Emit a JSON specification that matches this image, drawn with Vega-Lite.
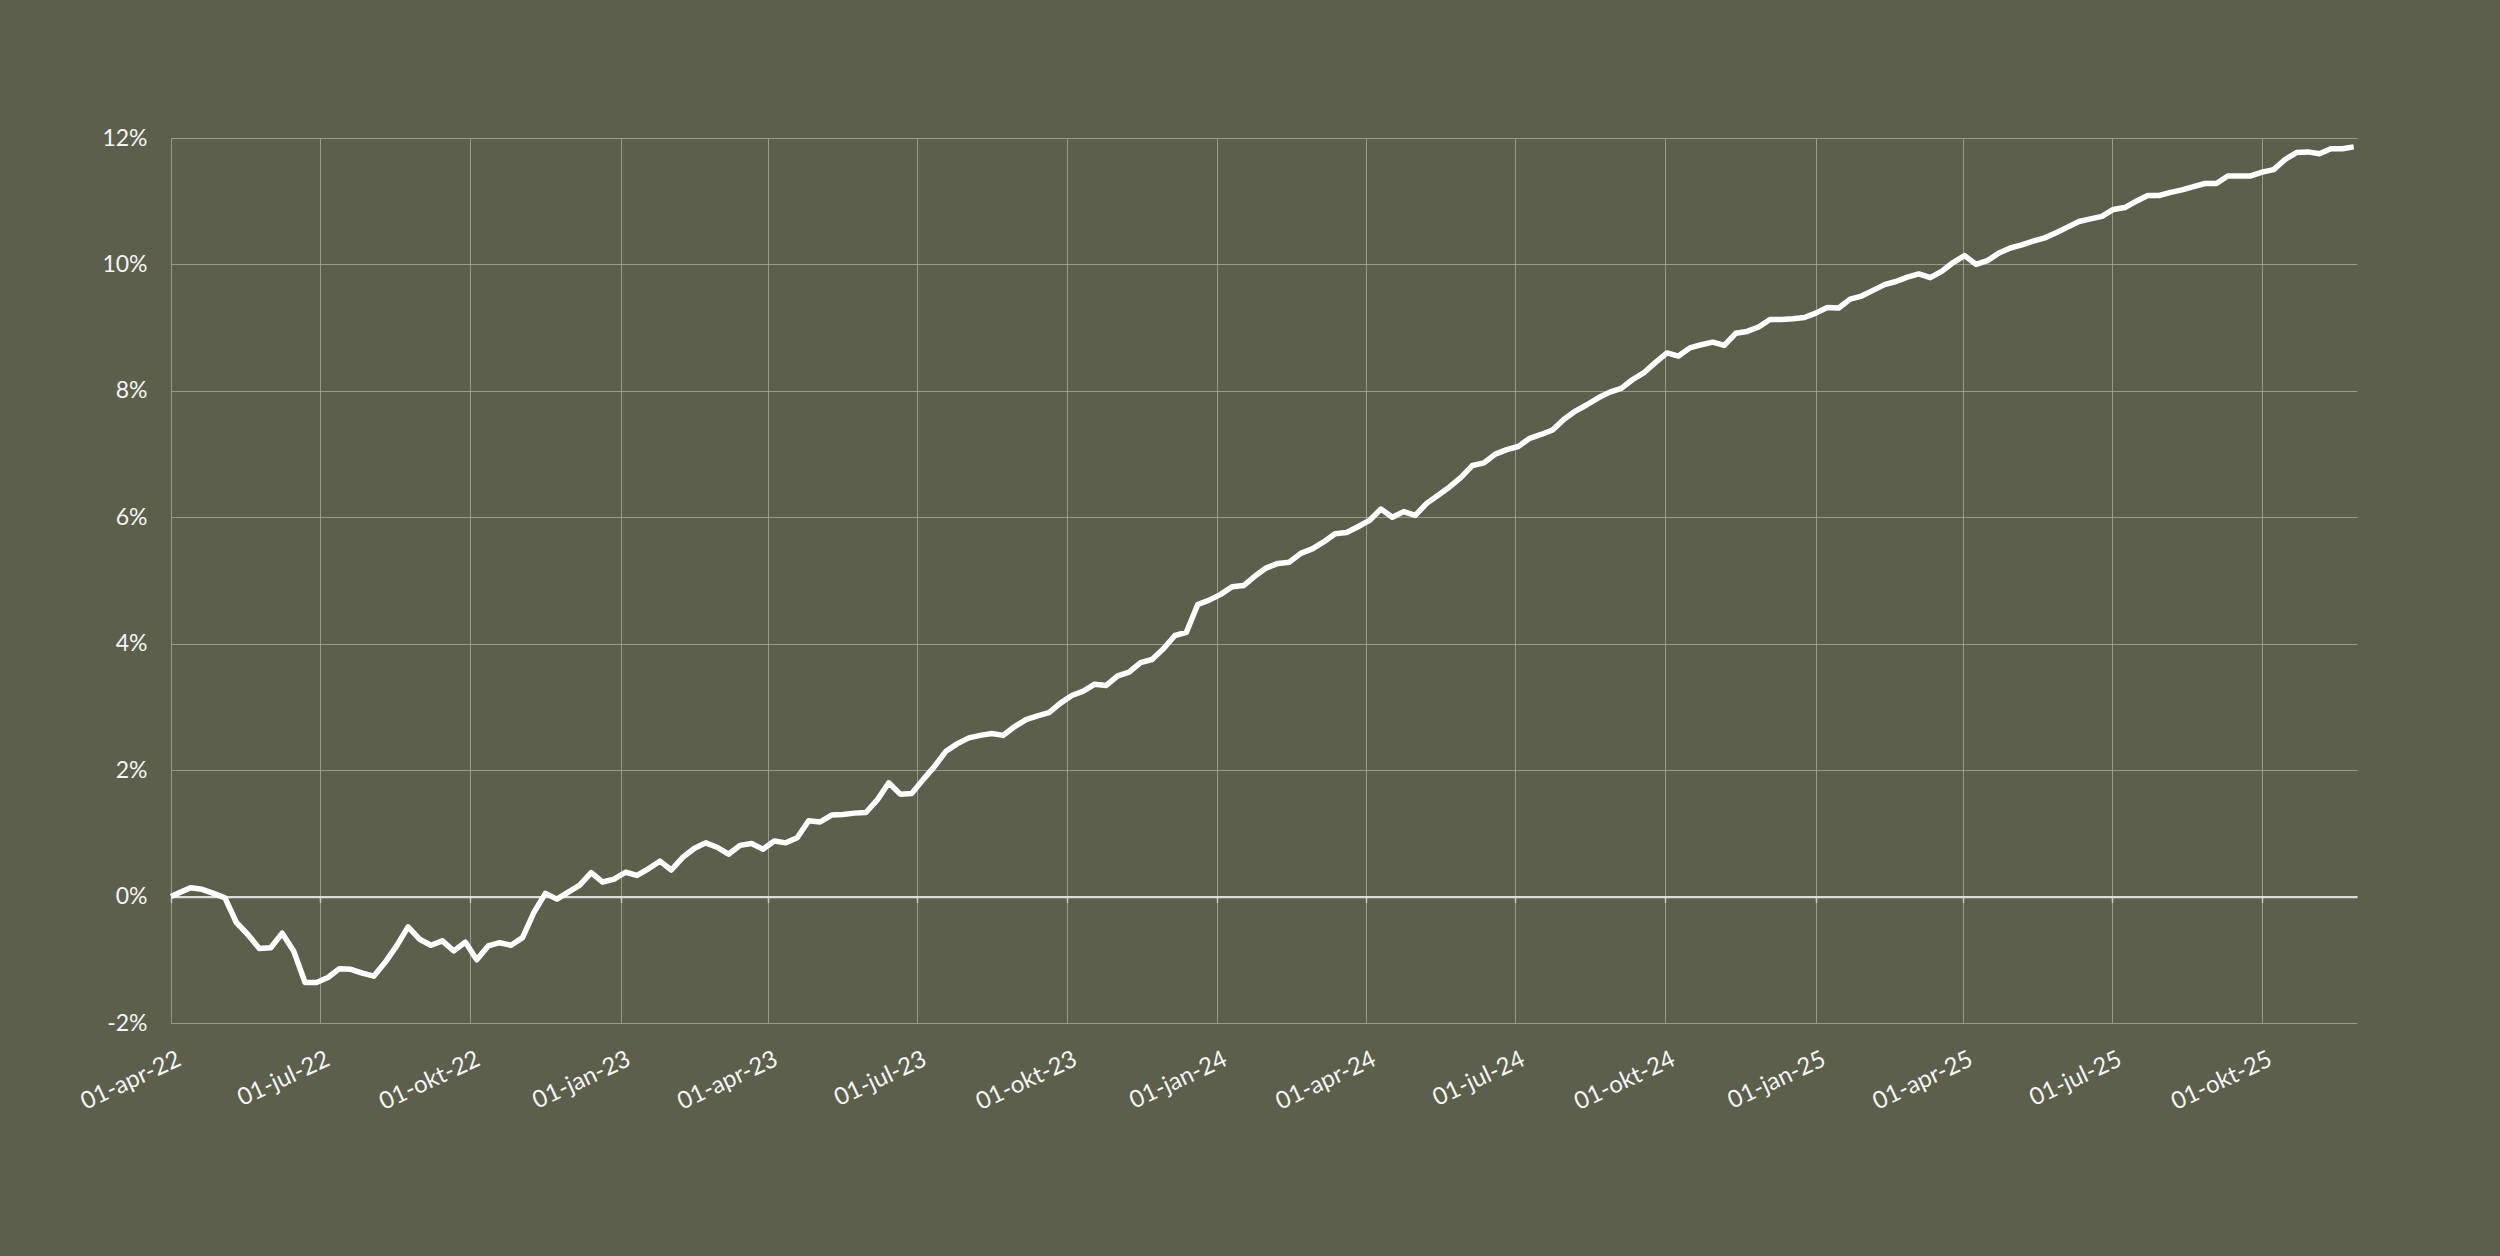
{
"$schema": "https://vega.github.io/schema/vega-lite/v6.json",
"width": 2186,
"height": 885,
"autosize": {"type": "none"},
"padding": {"left": 171, "top": 138, "right": 143, "bottom": 233},
"background": "#5c5f4b",
"config": {"view": {"stroke": null}, "font": "Lato", "axis": {"labelFont": "Lato"}},
"data": {"values": [
{"d":"2022-04-01","r":0.0},
{"d":"2022-04-06","r":0.06},{"d":"2022-04-13","r":0.14},{"d":"2022-04-20","r":0.115},{"d":"2022-04-27","r":0.05},
{"d":"2022-05-04","r":-0.02},{"d":"2022-05-11","r":-0.41},{"d":"2022-05-18","r":-0.6},{"d":"2022-05-25","r":-0.82},
{"d":"2022-06-01","r":-0.81},{"d":"2022-06-08","r":-0.58},{"d":"2022-06-15","r":-0.86},{"d":"2022-06-22","r":-1.36},{"d":"2022-06-29","r":-1.36},
{"d":"2022-07-06","r":-1.28},{"d":"2022-07-13","r":-1.14},{"d":"2022-07-20","r":-1.15},{"d":"2022-07-27","r":-1.21},
{"d":"2022-08-03","r":-1.26},{"d":"2022-08-10","r":-1.04},{"d":"2022-08-17","r":-0.78},{"d":"2022-08-24","r":-0.48},{"d":"2022-08-31","r":-0.675},
{"d":"2022-09-07","r":-0.77},{"d":"2022-09-14","r":-0.7},{"d":"2022-09-21","r":-0.86},{"d":"2022-09-28","r":-0.72},
{"d":"2022-10-05","r":-1.0},{"d":"2022-10-12","r":-0.78},{"d":"2022-10-19","r":-0.73},{"d":"2022-10-26","r":-0.77},
{"d":"2022-11-02","r":-0.65},{"d":"2022-11-09","r":-0.25},{"d":"2022-11-16","r":0.05},{"d":"2022-11-23","r":-0.04},{"d":"2022-11-30","r":0.07},
{"d":"2022-12-07","r":0.18},{"d":"2022-12-14","r":0.38},{"d":"2022-12-21","r":0.23},{"d":"2022-12-28","r":0.275},
{"d":"2023-01-04","r":0.385},{"d":"2023-01-11","r":0.335},{"d":"2023-01-18","r":0.44},{"d":"2023-01-25","r":0.56},
{"d":"2023-02-01","r":0.42},{"d":"2023-02-08","r":0.62},{"d":"2023-02-15","r":0.76},{"d":"2023-02-22","r":0.85},
{"d":"2023-03-01","r":0.78},{"d":"2023-03-08","r":0.67},{"d":"2023-03-15","r":0.81},{"d":"2023-03-22","r":0.84},{"d":"2023-03-29","r":0.75},
{"d":"2023-04-05","r":0.88},{"d":"2023-04-12","r":0.85},{"d":"2023-04-19","r":0.93},{"d":"2023-04-26","r":1.2},
{"d":"2023-05-03","r":1.18},{"d":"2023-05-10","r":1.29},{"d":"2023-05-17","r":1.3},{"d":"2023-05-24","r":1.32},{"d":"2023-05-31","r":1.33},
{"d":"2023-06-07","r":1.53},{"d":"2023-06-14","r":1.8},{"d":"2023-06-21","r":1.62},{"d":"2023-06-28","r":1.63},
{"d":"2023-07-05","r":1.85},{"d":"2023-07-12","r":2.06},{"d":"2023-07-19","r":2.3},{"d":"2023-07-26","r":2.42},
{"d":"2023-08-02","r":2.51},{"d":"2023-08-09","r":2.55},{"d":"2023-08-16","r":2.58},{"d":"2023-08-23","r":2.55},{"d":"2023-08-30","r":2.69},
{"d":"2023-09-06","r":2.8},{"d":"2023-09-13","r":2.86},{"d":"2023-09-20","r":2.91},{"d":"2023-09-27","r":3.06},
{"d":"2023-10-04","r":3.18},{"d":"2023-10-11","r":3.25},{"d":"2023-10-18","r":3.36},{"d":"2023-10-25","r":3.34},
{"d":"2023-11-01","r":3.49},{"d":"2023-11-08","r":3.55},{"d":"2023-11-15","r":3.7},{"d":"2023-11-22","r":3.75},{"d":"2023-11-29","r":3.92},
{"d":"2023-12-06","r":4.13},{"d":"2023-12-13","r":4.18},{"d":"2023-12-20","r":4.62},{"d":"2023-12-27","r":4.69},
{"d":"2024-01-03","r":4.78},{"d":"2024-01-10","r":4.9},{"d":"2024-01-17","r":4.92},{"d":"2024-01-24","r":5.07},{"d":"2024-01-31","r":5.2},
{"d":"2024-02-07","r":5.27},{"d":"2024-02-14","r":5.29},{"d":"2024-02-21","r":5.43},{"d":"2024-02-28","r":5.5},
{"d":"2024-03-06","r":5.61},{"d":"2024-03-13","r":5.74},{"d":"2024-03-20","r":5.76},{"d":"2024-03-27","r":5.85},
{"d":"2024-04-03","r":5.95},{"d":"2024-04-10","r":6.13},{"d":"2024-04-17","r":6.0},{"d":"2024-04-24","r":6.09},
{"d":"2024-05-01","r":6.03},{"d":"2024-05-08","r":6.22},{"d":"2024-05-15","r":6.35},{"d":"2024-05-22","r":6.48},{"d":"2024-05-29","r":6.63},
{"d":"2024-06-05","r":6.82},{"d":"2024-06-12","r":6.86},{"d":"2024-06-19","r":7.0},{"d":"2024-06-26","r":7.07},
{"d":"2024-07-03","r":7.12},{"d":"2024-07-10","r":7.25},{"d":"2024-07-17","r":7.31},{"d":"2024-07-24","r":7.38},{"d":"2024-07-31","r":7.55},
{"d":"2024-08-07","r":7.68},{"d":"2024-08-14","r":7.78},{"d":"2024-08-21","r":7.89},{"d":"2024-08-28","r":7.98},
{"d":"2024-09-04","r":8.04},{"d":"2024-09-11","r":8.18},{"d":"2024-09-18","r":8.29},{"d":"2024-09-25","r":8.45},
{"d":"2024-10-02","r":8.6},{"d":"2024-10-09","r":8.55},{"d":"2024-10-16","r":8.68},{"d":"2024-10-23","r":8.73},{"d":"2024-10-30","r":8.77},
{"d":"2024-11-06","r":8.72},{"d":"2024-11-13","r":8.91},{"d":"2024-11-20","r":8.94},{"d":"2024-11-27","r":9.01},
{"d":"2024-12-04","r":9.13},{"d":"2024-12-11","r":9.13},{"d":"2024-12-18","r":9.14},{"d":"2024-12-25","r":9.16},
{"d":"2025-01-01","r":9.23},{"d":"2025-01-08","r":9.32},{"d":"2025-01-15","r":9.31},{"d":"2025-01-22","r":9.45},{"d":"2025-01-29","r":9.5},
{"d":"2025-02-05","r":9.59},{"d":"2025-02-12","r":9.68},{"d":"2025-02-19","r":9.73},{"d":"2025-02-26","r":9.8},
{"d":"2025-03-05","r":9.85},{"d":"2025-03-12","r":9.79},{"d":"2025-03-19","r":9.89},{"d":"2025-03-26","r":10.03},
{"d":"2025-04-02","r":10.14},{"d":"2025-04-09","r":10.0},{"d":"2025-04-16","r":10.06},{"d":"2025-04-23","r":10.18},{"d":"2025-04-30","r":10.26},
{"d":"2025-05-07","r":10.31},{"d":"2025-05-14","r":10.37},{"d":"2025-05-21","r":10.42},{"d":"2025-05-28","r":10.5},
{"d":"2025-06-04","r":10.59},{"d":"2025-06-11","r":10.68},{"d":"2025-06-18","r":10.72},{"d":"2025-06-25","r":10.76},
{"d":"2025-07-02","r":10.87},{"d":"2025-07-09","r":10.9},{"d":"2025-07-16","r":11.0},{"d":"2025-07-23","r":11.09},{"d":"2025-07-30","r":11.09},
{"d":"2025-08-06","r":11.14},{"d":"2025-08-13","r":11.18},{"d":"2025-08-20","r":11.23},{"d":"2025-08-27","r":11.28},
{"d":"2025-09-03","r":11.28},{"d":"2025-09-10","r":11.4},{"d":"2025-09-17","r":11.4},{"d":"2025-09-24","r":11.4},
{"d":"2025-10-01","r":11.46},{"d":"2025-10-08","r":11.5},{"d":"2025-10-15","r":11.66},{"d":"2025-10-22","r":11.77},{"d":"2025-10-29","r":11.78},
{"d":"2025-11-05","r":11.75},{"d":"2025-11-12","r":11.83},{"d":"2025-11-19","r":11.83},{"d":"2025-11-26","r":11.86}
]},
"resolve": {"axis": {"x": "independent"}},
"layer": [
{
"mark": {"type": "line", "color": "#ffffff", "strokeWidth": 5, "opacity": 0},
"encoding": {
"x": {"field": "d", "type": "temporal",
"scale": {"type": "utc", "domain": [{"year": 2022, "month": 4, "date": 1, "utc": true}, {"year": 2025, "month": 11, "date": 28, "utc": true}]},
"axis": {"orient": "bottom", "title": null, "domain": false, "ticks": false, "grid": true, "gridColor": "#a6a89b", "gridWidth": 1, "gridOpacity": 0.8,
"values": [{"year":2022,"month":4,"date":1,"utc":true},{"year":2022,"month":7,"date":1,"utc":true},{"year":2022,"month":10,"date":1,"utc":true},
{"year":2023,"month":1,"date":1,"utc":true},{"year":2023,"month":4,"date":1,"utc":true},{"year":2023,"month":7,"date":1,"utc":true},{"year":2023,"month":10,"date":1,"utc":true},
{"year":2024,"month":1,"date":1,"utc":true},{"year":2024,"month":4,"date":1,"utc":true},{"year":2024,"month":7,"date":1,"utc":true},{"year":2024,"month":10,"date":1,"utc":true},
{"year":2025,"month":1,"date":1,"utc":true},{"year":2025,"month":4,"date":1,"utc":true},{"year":2025,"month":7,"date":1,"utc":true},{"year":2025,"month":10,"date":1,"utc":true}],
"labelExpr": "utcFormat(datum.value, '%d') + '-' + ['jan','feb','mrt','apr','mei','jun','jul','aug','sep','okt','nov','dec'][utcmonth(datum.value)] + '-' + utcFormat(datum.value, '%y')",
"labelAngle": -25, "labelAlign": "right", "labelBaseline": "top", "labelPadding": 24, "labelOffset": 3,
"labelFontSize": 24, "labelColor": "#f4f4f4", "labelOverlap": false, "labelFlush": false, "labelBound": false}},
"y": {"field": "r", "type": "quantitative",
"scale": {"domain": [-2, 12], "nice": false, "zero": false},
"axis": {"title": null, "values": [-2, 0, 2, 4, 6, 8, 10, 12], "domain": false, "ticks": false, "grid": true, "gridColor": "#a6a89b", "gridWidth": 1, "gridOpacity": 0.8,
"labelExpr": "datum.value + '%'", "labelFontSize": 23, "labelColor": "#f4f4f4", "labelPadding": 24, "labelFlush": false}}
}
},
{
"mark": {"type": "line", "color": "#ffffff", "strokeWidth": 5.5, "strokeJoin": "round", "strokeCap": "butt"},
"encoding": {
"x": {"field": "d", "type": "temporal",
"axis": {"orient": "bottom", "offset": -126.4, "title": null, "labels": false, "grid": false, "domain": true, "domainColor": "#dcdcdc", "domainWidth": 2.2,
"ticks": true, "tickColor": "#c8c8c0", "tickWidth": 1.5, "tickSize": 6,
"values": [{"year":2022,"month":4,"date":1,"utc":true},{"year":2022,"month":7,"date":1,"utc":true},{"year":2022,"month":10,"date":1,"utc":true},
{"year":2023,"month":1,"date":1,"utc":true},{"year":2023,"month":4,"date":1,"utc":true},{"year":2023,"month":7,"date":1,"utc":true},{"year":2023,"month":10,"date":1,"utc":true},
{"year":2024,"month":1,"date":1,"utc":true},{"year":2024,"month":4,"date":1,"utc":true},{"year":2024,"month":7,"date":1,"utc":true},{"year":2024,"month":10,"date":1,"utc":true},
{"year":2025,"month":1,"date":1,"utc":true},{"year":2025,"month":4,"date":1,"utc":true},{"year":2025,"month":7,"date":1,"utc":true},{"year":2025,"month":10,"date":1,"utc":true}]}},
"y": {"field": "r", "type": "quantitative"}
}
}
]
}
